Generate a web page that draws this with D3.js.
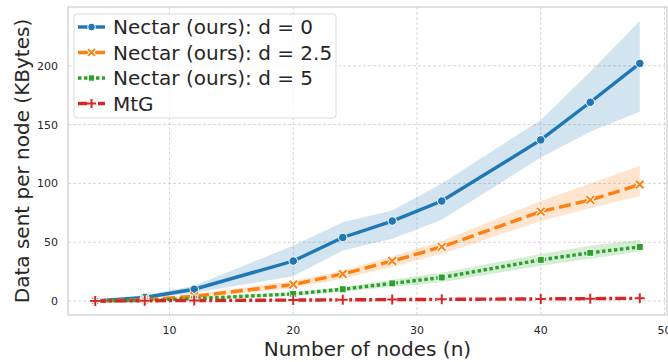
<!DOCTYPE html>
<html>
<head>
<meta charset="utf-8">
<script src="https://cdn.jsdelivr.net/npm/d3@7"></script>
<style>
  body { margin: 0; background: #fff; }
  svg text { font-family: "DejaVu Sans", sans-serif; fill: #262626; }
</style>
</head>
<body>
<svg id="chart" width="668" height="362"></svg>
<script>
// nodes on the x axis
const nodes = [4, 8, 12, 20, 24, 28, 32, 40, 44, 48];

// mean values (KBytes) per series
const d0Mean  = [0, 3, 10, 34, 54, 68, 85, 137, 169, 202];
const d0Low   = [0, 1.5, 7, 21, 43, 53, 69, 122, 144, 161];
const d0High  = [0, 5, 13, 47, 67, 77, 100, 154, 195, 238];

const d25Mean = [0, 1, 4, 14, 23, 34, 46, 76, 86, 99];
const d25Low  = [0, 0.5, 2.5, 11, 19, 29, 40, 68, 79, 89];
const d25High = [0, 1.5, 5.5, 17, 26, 38, 51, 85, 100, 115];

const d5Mean  = [0, 0.5, 2, 6, 10, 15, 20, 35, 41, 46];
const d5Low   = [0, 0.2, 1.2, 4.5, 8, 12, 16, 30, 36, 42];
const d5High  = [0, 0.8, 2.8, 7.5, 12, 18, 24, 40, 47, 52];

const mtgMean = [0, 0.2, 0.4, 0.8, 1, 1.2, 1.4, 1.8, 2, 2.3];

const xTicks = [10, 20, 30, 40, 50];
const yTicks = [0, 50, 100, 150, 200];
const legendNames = ["Nectar (ours): d = 0", "Nectar (ours): d = 2.5", "Nectar (ours): d = 5", "MtG"];

const series = [
  { name: legendNames[0], mean: d0Mean, low: d0Low, high: d0High, color: "#1f77b4", dash: null, marker: "circle" },
  { name: legendNames[1], mean: d25Mean, low: d25Low, high: d25High, color: "#ff7f0e", dash: "12,5", marker: "x" },
  { name: legendNames[2], mean: d5Mean, low: d5Low, high: d5High, color: "#2ca02c", dash: "3.5,2.5", marker: "square" },
  { name: legendNames[3], mean: mtgMean, low: null, high: null, color: "#d62728", dash: "11,3,3,3", marker: "plus" }
];

const svg = d3.select("#chart");
const m = { left: 68, right: 1, top: 7, bottom: 47 };
const W = 668, H = 362;

const x = d3.scaleLinear().domain([1.8, 50.2]).range([m.left, W - m.right]);
const y = d3.scaleLinear().domain([-11.9, 250]).range([H - m.bottom, m.top]);

// grid
const g = svg.append("g");
g.selectAll(".gx").data(xTicks).enter().append("line")
  .attr("x1", d => x(d)).attr("x2", d => x(d))
  .attr("y1", m.top).attr("y2", H - m.bottom)
  .attr("stroke", "#cccccc").attr("stroke-width", 0.8).attr("stroke-dasharray", "3,2");
g.selectAll(".gy").data(yTicks).enter().append("line")
  .attr("x1", m.left).attr("x2", W - m.right)
  .attr("y1", d => y(d)).attr("y2", d => y(d))
  .attr("stroke", "#cccccc").attr("stroke-width", 0.8).attr("stroke-dasharray", "3,2");

// bands
const area = d3.area()
  .x((d, i) => x(nodes[i]))
  .y0(d => y(d[0])).y1(d => y(d[1]));
series.forEach(s => {
  if (!s.low) return;
  const pts = s.low.map((v, i) => [v, s.high[i]]);
  svg.append("path").attr("d", area(pts))
    .attr("fill", s.color).attr("opacity", 0.2);
});

// lines
const line = d3.line().x((d, i) => x(nodes[i])).y(d => y(d));
function drawMarker(sel, type, cx, cy, color, size) {
  if (type === "circle") {
    sel.append("circle").attr("cx", cx).attr("cy", cy).attr("r", size * 0.85)
      .attr("fill", color).attr("stroke", "#fff").attr("stroke-width", 1);
  } else if (type === "square") {
    sel.append("rect").attr("x", cx - size * 0.7).attr("y", cy - size * 0.7)
      .attr("width", size * 1.4).attr("height", size * 1.4)
      .attr("fill", color).attr("stroke", "#fff").attr("stroke-width", 1);
  } else {
    const s = size;
    const p = type === "x"
      ? `M${cx - s * 0.75},${cy - s * 0.75}L${cx + s * 0.75},${cy + s * 0.75}M${cx - s * 0.75},${cy + s * 0.75}L${cx + s * 0.75},${cy - s * 0.75}`
      : `M${cx - s},${cy}L${cx + s},${cy}M${cx},${cy - s}L${cx},${cy + s}`;
    sel.append("path").attr("d", p).attr("stroke", "#fff").attr("stroke-width", 4).attr("fill", "none");
    sel.append("path").attr("d", p).attr("stroke", color).attr("stroke-width", 2).attr("fill", "none");
  }
}
series.forEach(s => {
  svg.append("path").attr("d", line(s.mean))
    .attr("fill", "none").attr("stroke", s.color).attr("stroke-width", 3.4)
    .attr("stroke-dasharray", s.dash);
  const mg = svg.append("g");
  s.mean.forEach((v, i) => drawMarker(mg, s.marker, x(nodes[i]), y(v), s.color, 5));
});

// frame
svg.append("rect").attr("x", m.left).attr("y", m.top)
  .attr("width", W - m.right - m.left).attr("height", H - m.bottom - m.top)
  .attr("fill", "none").attr("stroke", "#cccccc").attr("stroke-width", 1.2);

// tick labels
svg.selectAll(".xt").data(xTicks).enter().append("text")
  .attr("x", d => x(d)).attr("y", H - m.bottom + 19)
  .attr("text-anchor", "middle").attr("font-size", 11).text(d => d);
svg.selectAll(".yt").data(yTicks).enter().append("text")
  .attr("x", m.left - 10).attr("y", d => y(d) + 4)
  .attr("text-anchor", "end").attr("font-size", 11).text(d => d);

// axis titles
svg.append("text").attr("x", (m.left + W - m.right) / 2).attr("y", 356)
  .attr("text-anchor", "middle").attr("font-size", 20).text("Number of nodes (n)");
svg.append("text").attr("transform", `translate(29,${(m.top + H - m.bottom) / 2}) rotate(-90)`)
  .attr("text-anchor", "middle").attr("font-size", 20).text("Data sent per node (KBytes)");

// legend
const lg = svg.append("g").attr("transform", "translate(74,14)");
lg.append("rect").attr("width", 262).attr("height", 104).attr("rx", 3)
  .attr("fill", "#fff").attr("fill-opacity", 0.8).attr("stroke", "#d9d9d9").attr("stroke-width", 1);
series.forEach((s, i) => {
  const cy = 13 + i * 25.5;
  lg.append("line").attr("x1", 4).attr("x2", 31).attr("y1", cy).attr("y2", cy)
    .attr("stroke", s.color).attr("stroke-width", 3.4).attr("stroke-dasharray", s.dash);
  drawMarker(lg, s.marker, 17.5, cy, s.color, 4.5);
  lg.append("text").attr("x", 39).attr("y", cy + 7).attr("font-size", 20).text(s.name);
});
</script>
</body>
</html>
